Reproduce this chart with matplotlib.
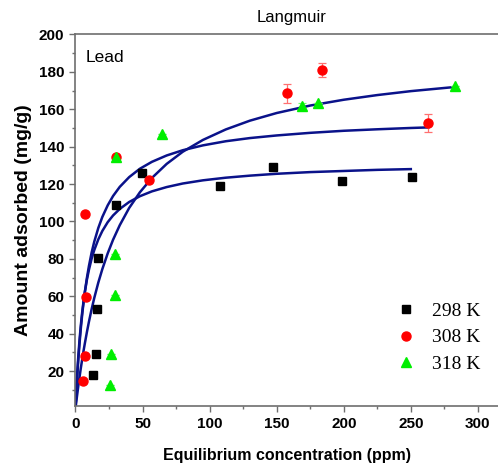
import matplotlib
matplotlib.use('Agg')
import matplotlib.pyplot as plt
from matplotlib.ticker import MultipleLocator

# --- data ---
ce_298 = [13.3, 15.3, 15.8, 16.5, 30.2, 49.8, 107.7, 147.0, 198.6, 250.7]
qe_298 = [17.8, 29.3, 53.2, 80.5, 108.9, 125.8, 118.9, 129.2, 121.9, 123.8]

ce_308 = [5.3, 7.1, 7.8, 7.1, 30.0, 55.0, 157.4, 183.9, 262.9]
qe_308 = [14.8, 27.8, 59.8, 104.2, 134.6, 122.1, 168.5, 181.0, 152.7]
err_308 = [0, 0, 0, 0, 0, 0, 5.0, 3.5, 5.0]

ce_318 = [25.7, 26.5, 29.4, 29.4, 30.0, 64.5, 169.0, 181.0, 283.3]
qe_318 = [12.3, 28.9, 60.5, 82.4, 134.6, 146.7, 161.7, 163.1, 172.6]
err_318 = [0, 0, 0, 0, 0, 0, 1.5, 0, 0]

# Langmuir fit lines
fit_x = [0, 0.5, 1, 1.5, 2, 3, 4, 5, 6, 7, 8.5, 10, 12, 14, 17, 20, 24, 28, 33, 40,
         48, 57, 68, 80, 95, 112, 130, 150, 175, 200, 225, 250]
fit_298 = [0, 7.9, 15.0, 21.3, 26.9, 36.6, 44.7, 51.5, 57.3, 62.4, 68.8, 74.1, 80.0,
           84.7, 90.4, 94.9, 99.6, 103.2, 106.7, 110.4, 113.5, 116.1, 118.4, 120.3,
           122.0, 123.4, 124.5, 125.5, 126.4, 127.0, 127.6, 128.0]
fit_x_308 = fit_x + [263]
fit_308 = [0, 7.1, 13.6, 19.5, 25.0, 34.7, 43.0, 50.3, 56.7, 62.4, 69.8, 76.1, 83.3,
           89.2, 96.5, 102.4, 108.6, 113.6, 118.5, 123.7, 128.2, 131.9, 135.3, 138.1,
           140.7, 142.9, 144.6, 146.0, 147.4, 148.5, 149.3, 150.0, 150.3]
fit_x_318 = fit_x + [284]
fit_318 = [0, 3.0, 5.9, 8.7, 11.5, 16.7, 21.7, 26.3, 30.8, 34.9, 40.8, 46.3, 53.0,
           59.1, 67.3, 74.5, 82.9, 90.2, 98.0, 107.2, 115.6, 123.3, 130.8, 137.3,
           143.6, 149.2, 153.9, 158.0, 162.0, 165.1, 167.6, 169.7, 172.0]

LINE_COLOR = '#0a128a'
SPINE_COLOR = '#6e6e6e'

fig = plt.figure(figsize=(4.98, 4.68), dpi=100)
ax = fig.add_axes([0.1516, 0.1325, 0.8484, 0.7938])

for xs, ys in [(fit_x, fit_298), (fit_x_308, fit_308), (fit_x_318, fit_318)]:
    ax.plot(xs, ys, color=LINE_COLOR, lw=1.8, zorder=2)

ax.errorbar(ce_308, qe_308, yerr=err_308, fmt='none', ecolor='#ff7070',
            elinewidth=0.9, capsize=3, capthick=0.9, zorder=3)
ax.errorbar(ce_318, qe_318, yerr=err_318, fmt='none', ecolor='#70ff70',
            elinewidth=0.9, capsize=3, capthick=0.9, zorder=3)

ax.plot(ce_298, qe_298, ls='none', marker='s', ms=5.8, color='black', label='298 K', zorder=4)
ax.plot(ce_308, qe_308, ls='none', marker='o', ms=6.5, color='#ff0000', label='308 K', zorder=4)
ax.plot(ce_318, qe_318, ls='none', marker='^', ms=7, color='#00ee00', label='318 K', zorder=5)

ax.set_xlim(0, 315)
ax.set_ylim(1.3, 200)
ax.xaxis.set_major_locator(MultipleLocator(50))
ax.xaxis.set_minor_locator(MultipleLocator(25))
ax.yaxis.set_major_locator(MultipleLocator(20))
ax.yaxis.set_minor_locator(MultipleLocator(10))

for side in ['left', 'bottom', 'top']:
    ax.spines[side].set_color(SPINE_COLOR)
    ax.spines[side].set_linewidth(1.2)
ax.spines['right'].set_visible(False)
ax.tick_params(which='major', direction='out', length=4.5, width=1, color=SPINE_COLOR,
               labelsize=11)
ax.tick_params(which='minor', direction='out', length=2.5, width=1, color=SPINE_COLOR)
for lab in ax.get_xticklabels() + ax.get_yticklabels():
    lab.set_fontweight('bold')
    lab.set_family('Liberation Sans')

ax.set_xlabel('Equilibrium concentration (ppm)', fontsize=11.5, fontweight='bold',
              family='Liberation Sans', labelpad=12)
ax.set_ylabel('Amount adsorbed (mg/g)', fontsize=14, fontweight='bold',
              family='Liberation Sans', labelpad=5)

fig.text(0.586, 0.963, 'Langmuir', ha='center', va='center', fontsize=12,
         family='Liberation Sans')
ax.text(0.025, 0.938, 'Lead', transform=ax.transAxes, fontsize=12.5,
        family='Liberation Sans', va='center')

ax.legend(loc='upper left', bbox_to_anchor=(0.74, 0.30), frameon=False,
          prop={'family': 'Liberation Serif', 'size': 14}, handlelength=1,
          handletextpad=0.85, labelspacing=0.46, borderaxespad=0)

fig.savefig('out.png', dpi=100)
